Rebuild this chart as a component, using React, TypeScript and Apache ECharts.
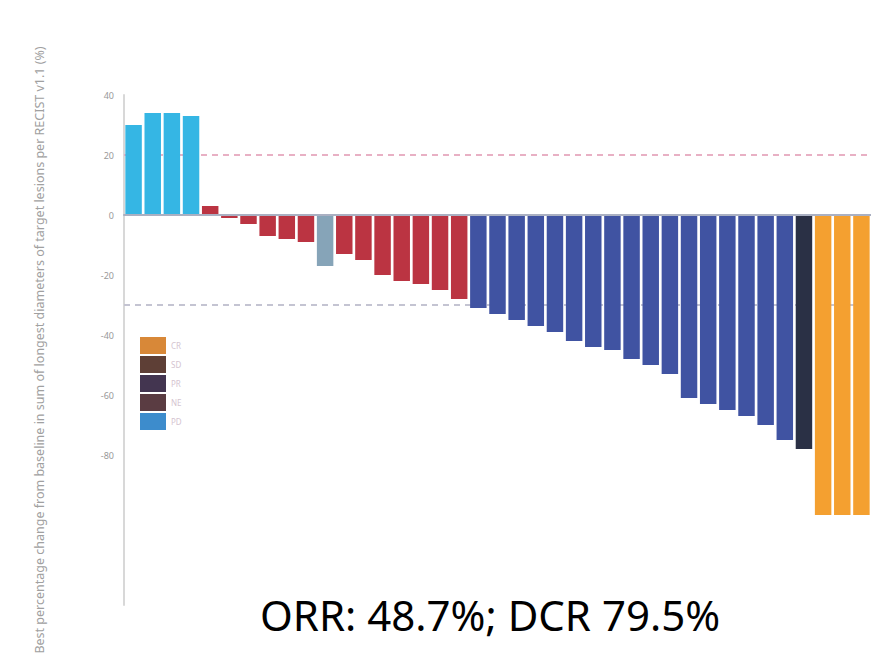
import React, { useEffect, useRef } from "react";
import * as echarts from "echarts";

// ---- data ----
const patients: string[] = Array.from({ length: 39 }, (_, i) => `P${i + 1}`);
const bestChange: number[] = [
  30, 34, 34, 33, 3, -1, -3, -7, -8, -9, -17, -13, -15, -20, -22, -23, -25, -28,
  -31, -33, -35, -37, -39, -42, -44, -45, -48, -50, -53, -61, -63, -65, -67, -70,
  -75, -78, -100, -100, -100,
];
const response: string[] = [
  "PD", "PD", "PD", "PD",
  "SD", "SD", "SD", "SD", "SD", "SD", "NE", "SD", "SD", "SD", "SD", "SD", "SD", "SD",
  "PR", "PR", "PR", "PR", "PR", "PR", "PR", "PR", "PR", "PR", "PR", "PR", "PR", "PR", "PR", "PR",
  "PR", "uPR", "CR", "CR", "CR",
];
const responseTypes: string[] = ["CR", "SD", "PR", "NE", "PD", "uPR"];
const legendNames: string[] = ["CR", "SD", "PR", "NE", "PD"];
const yTickLabels: number[] = [40, 20, 0, -20, -40, -60, -80];
const thresholds: number[] = [20, -30];
const summaryText = "ORR: 48.7%; DCR 79.5%";
const yAxisTitle =
  "Best percentage change from baseline in sum of longest diameters of target lesions per RECIST v1.1 (%)";

// ---- styles ----
const barColors: Record<string, string> = {
  CR: "#f4a030",
  SD: "#bb3442",
  PR: "#4053a2",
  NE: "#86a4b8",
  PD: "#35b6e4",
  uPR: "#2a3045",
};
const legendColors: Record<string, string> = {
  CR: "#d88838",
  SD: "#5e3f36",
  PR: "#433550",
  NE: "#5a3c42",
  PD: "#3d8ccc",
};
const thresholdColors = ["#e8b0c4", "#c4c4d2"];

export default function App() {
  const ref = useRef<HTMLDivElement>(null);
  useEffect(() => {
    if (!ref.current) return;
    const chart = echarts.init(ref.current, undefined, { renderer: "svg" });
    const series: any[] = responseTypes.map((t, k) => ({
      name: t,
      type: "bar",
      stack: "all",
      barCategoryGap: "14%",
      itemStyle: { color: barColors[t] },
      data: bestChange.map((v, i) => (response[i] === t ? v : "-")),
      z: 2,
      ...(k === 0
        ? {
            markLine: {
              silent: true,
              symbol: "none",
              z: 1,
              label: { show: false },
              data: thresholds.map((v, j) => ({
                yAxis: v,
                lineStyle: { color: thresholdColors[j], type: [6, 5], width: 2 },
              })),
            },
          }
        : {}),
    }));
    chart.setOption({
      animation: false,
      backgroundColor: "#ffffff",
      textStyle: { fontFamily: "Noto Sans" },
      grid: {
        left: 124,
        right: 0,
        top: 95,
        bottom: 58,
        containLabel: false,
        outerBoundsMode: "none",
      },
      legend: {
        orient: "vertical",
        left: 140,
        top: 337,
        padding: 0,
        itemWidth: 26,
        itemHeight: 17,
        itemGap: 2,
        icon: "rect",
        selectedMode: false,
        textStyle: { fontSize: 8, color: "#d4c4d0" },
        data: legendNames.map((n) => ({ name: n, itemStyle: { color: legendColors[n] } })),
      },
      xAxis: {
        type: "category",
        data: patients,
        axisLabel: { show: false },
        axisTick: { show: false },
        axisLine: { onZero: true, lineStyle: { color: "#aab0c2", width: 2 } },
        z: 3,
      },
      yAxis: {
        type: "value",
        min: -130,
        max: 40,
        interval: 10,
        name: yAxisTitle,
        nameLocation: "middle",
        nameRotate: 90,
        nameGap: 78,
        nameTextStyle: { color: "#a0a0a0", fontSize: 12.5 },
        axisLine: { show: true, lineStyle: { color: "#d8d8d8", width: 2 } },
        axisTick: { show: false },
        splitLine: { show: false },
        axisLabel: {
          fontSize: 9,
          color: "#999999",
          margin: 10,
          formatter: (v: number) => (yTickLabels.includes(v) ? String(v) : ""),
        },
      },
      graphic: [
        {
          type: "text",
          left: 260,
          top: 593,
          style: {
            text: summaryText,
            font: "42px 'Noto Sans'",
            fill: "#000000",
          },
        },
      ],
      series,
    });
    return () => chart.dispose();
  }, []);
  return (
    <div
      ref={ref}
      style={{ position: "fixed", left: 0, top: 0, width: 871, height: 663, background: "#fff" }}
    />
  );
}
